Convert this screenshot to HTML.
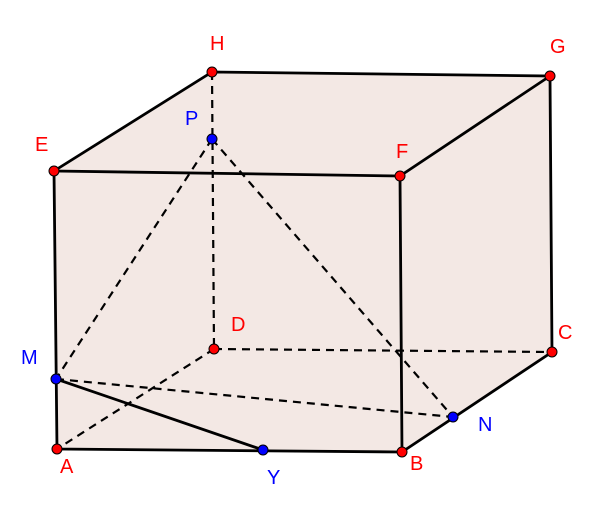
<!DOCTYPE html>
<html><head><style>html,body{margin:0;padding:0;background:#fff}svg{display:block}</style></head>
<body>
<svg width="600" height="506" viewBox="0 0 600 506" xmlns="http://www.w3.org/2000/svg" font-family="Liberation Sans, sans-serif" font-size="20">
<polygon points="54,171 212,72 550,76 552,352 402,452 57,449" fill="#f3e8e4"/>
<g stroke="#000" stroke-width="2.8" fill="none" stroke-linecap="round">
<polyline points="54,171 212,72 550,76 552,352 402,452 57,449 54,171"/>
<polyline points="54,171 400,176 550,76"/>
<line x1="400" y1="176" x2="402" y2="452"/>
<line x1="56" y1="379" x2="263" y2="450"/>
</g>
<g stroke="#000" stroke-width="2.2" fill="none" stroke-dasharray="8,6">
<line x1="212" y1="72" x2="214" y2="349"/>
<line x1="214" y1="349" x2="57" y2="449"/>
<line x1="214" y1="349" x2="552" y2="352"/>
<line x1="212" y1="139" x2="56" y2="379"/>
<line x1="212" y1="139" x2="453" y2="417"/>
<line x1="56" y1="379" x2="453" y2="417"/>
</g>
<g stroke="#000" stroke-width="1" fill="#f00">
<circle cx="212" cy="72" r="5"/><circle cx="550" cy="76" r="5"/>
<circle cx="54" cy="171" r="5"/><circle cx="400" cy="176" r="5"/>
<circle cx="214" cy="349" r="5"/><circle cx="552" cy="352" r="5"/>
<circle cx="57" cy="449" r="5"/><circle cx="402" cy="452" r="5"/>
</g>
<g stroke="#000" stroke-width="1" fill="#00f">
<circle cx="212" cy="139" r="5"/><circle cx="56" cy="379" r="5"/>
<circle cx="453" cy="417" r="5"/><circle cx="263" cy="450" r="5"/>
</g>
<g fill="#f00">
<text x="210" y="50">H</text><text x="550" y="53">G</text>
<text x="35" y="151">E</text><text x="396" y="158">F</text>
<text x="231" y="331">D</text><text x="558" y="339">C</text>
<text x="60" y="473">A</text><text x="410" y="470">B</text>
</g>
<g fill="#00f">
<text x="185" y="125">P</text><text x="21" y="364">M</text>
<text x="478" y="431">N</text><text x="267" y="484">Y</text>
</g>
</svg>
</body></html>
